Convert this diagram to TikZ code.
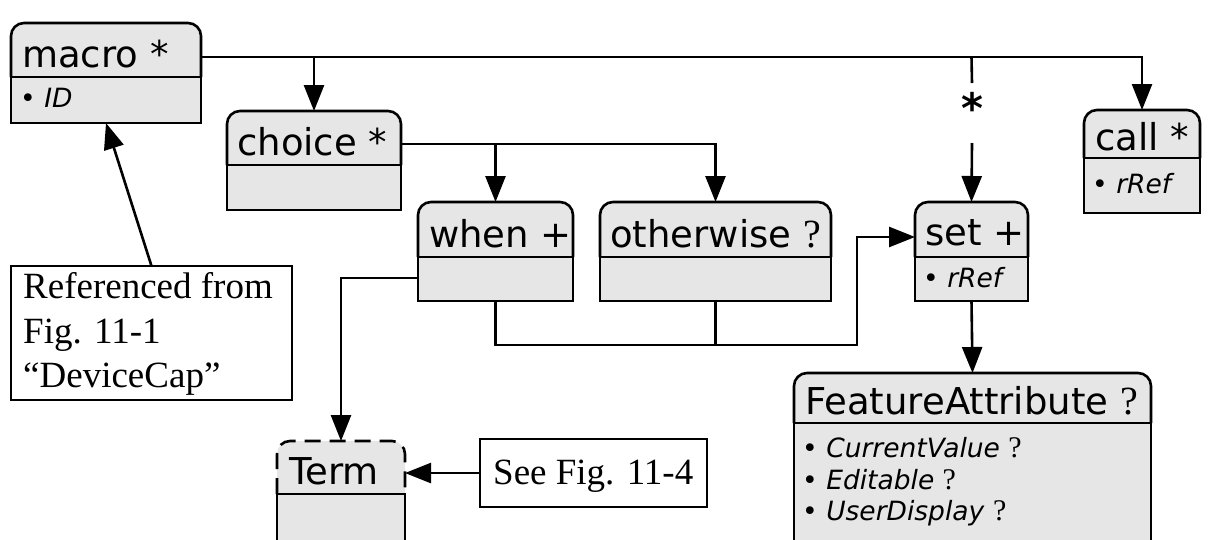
\documentclass[tikz,border=0pt]{standalone}
\usepackage{fontspec}
\setmainfont{Liberation Serif}
\newfontfamily\dvs{DejaVu Sans}
\usetikzlibrary{arrows.meta,calc}
\definecolor{boxgray}{HTML}{E6E6E6}
\tikzset{
  lw/.style={line width=2.6pt},
  arr/.style={lw, -{Triangle[length=26pt,width=20pt]}},
  conn/.style={lw},
  hdrfont/.style={font=\dvs\fontsize{37}{42}\selectfont},
  attrfont/.style={font=\dvs\fontsize{26.5}{30}\selectfont},
  notefont/.style={font=\fontsize{37}{44}\selectfont},
  txt/.style={anchor=base west, inner sep=0pt},
  notebox/.style={draw, lw, fill=white, inner sep=0pt, outer sep=0pt, anchor=north west},
}
% #1 name, #2 left, #3 top, #4 right, #5 divider, #6 bottom, #7 header line style
\newcommand\classbox[7]{%
  \fill[boxgray, rounded corners=13pt] (#2,#3) rectangle (#4,#5+20);
  \fill[boxgray] (#2,#5) rectangle (#4,#6);
  \draw[lw, rounded corners=13pt, #7] (#2,#5) -- (#2,#3) -- (#4,#3) -- (#4,#5);
  \draw[lw] (#2,#5) -- (#4,#5) -- (#4,#6) -- (#2,#6) -- cycle;
  \node[inner sep=0pt, outer sep=0pt, minimum width={#4-#2}, minimum height={#6-#3}, anchor=north west] (#1) at (#2,#3) {};
}
\newcommand\qh{{\rmfamily\fontsize{40}{42}\selectfont ?}}
\newcommand\qa{{\rmfamily\fontsize{30}{32}\selectfont ?}}
\begin{document}
\begin{tikzpicture}[x=1pt,y=-1pt]
\useasboundingbox (0,0) rectangle (1217,539);
\clip (0,0) rectangle (1217,539);

% classes
\classbox{macro}{11}{23}{201}{77}{123}{}
\classbox{choice}{227}{111}{401}{165}{210}{}
\classbox{when}{418}{202}{573}{257}{301}{}
\classbox{otherwise}{600}{202}{831}{257}{301}{}
\classbox{set}{915}{202}{1028}{257}{301}{}
\classbox{call}{1084}{110}{1200}{158}{213}{}
\classbox{FA}{794}{373}{1151}{423}{560}{}
\classbox{Term}{277}{441}{405}{494}{560}{dash pattern=on 16pt off 9pt}

% header texts
\node[hdrfont, txt] at (22,67) {macro *};
\node[hdrfont, txt] at (237,155) {choice *};
\node[hdrfont, txt] at (429,247) {when +};
\node[hdrfont, txt] at (610,247) {otherwise \qh};
\node[hdrfont, txt] at (925,245) {set +};
\node[hdrfont, txt] at (1095,150) {call *};
\node[hdrfont, txt] at (805,414) {FeatureAttribute \qh};
\node[hdrfont, txt] at (289,484) {Term};

% attribute texts
\node[attrfont, txt] at (20,107) {• \textit{ID}};
\node[attrfont, txt] at (923,287) {• \textit{rRef}};
\node[attrfont, txt] at (1092,193) {• \textit{rRef}};
\node[attrfont, txt] at (802,457) {• \textit{CurrentValue} \qa};
\node[attrfont, txt] at (802,489) {• \textit{Editable} \qa};
\node[attrfont, txt] at (802,520) {• \textit{UserDisplay} \qa};

% note boxes
\node[notebox, minimum width=281pt, minimum height=134pt] (ref) at (11,266) {};
\node[notefont, txt] at (23,298) {Referenced from};
\node[notefont, txt] at (23,343) {Fig. 11-1};
\node[notefont, txt] at (23,387) {“DeviceCap”};
\node[notebox, minimum width=227pt, minimum height=68pt] (see) at (480,439) {};
\node[notefont, txt] at (493,484) {See Fig. 11-4};

% star label on the set connector
\node[font=\dvs\bfseries\fontsize{42}{44}\selectfont, anchor=base, inner sep=0pt] (starlbl) at (972,123) {*};
\coordinate (starT) at (972,83);
\coordinate (starB) at (972,143);

% connectors
\coordinate (mR) at ([yshift=-34pt]macro.north east);
\draw[arr] (mR) -| (call.north);
\draw[arr] (choice.north |- mR) -- (choice.north);
\draw[conn] (set.north |- mR) -- (starT);
\draw[arr] (starB) -- (set.north);

\coordinate (cR) at ([yshift=-33pt]choice.north east);
\draw[arr] (cR) -| (otherwise.north);
\draw[arr] (when.north |- cR) -- (when.north);

\coordinate (bus) at (857,345);
\draw[arr] (when.south) |- (bus) |- ([yshift=-35pt]set.north west);
\draw[conn] (otherwise.south) -- (otherwise.south |- bus);

\draw[arr] ([yshift=23pt]when.south west) -| (Term.north);
\draw[arr] (set.south) -- (FA.north);
\draw[arr] (see.west) -- (see.west -| Term.east);
\draw[arr] (ref.north) -- (macro.south);
\end{tikzpicture}
\end{document}
